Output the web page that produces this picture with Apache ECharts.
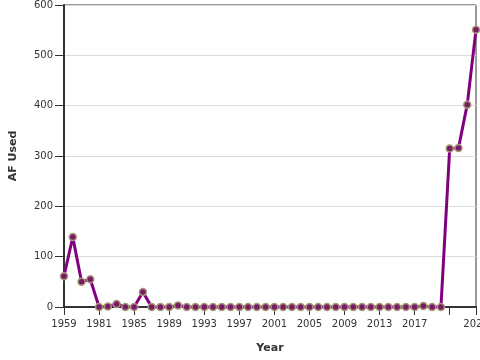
<!DOCTYPE html>
<html><head><meta charset="utf-8">
<script src="https://cdn.jsdelivr.net/npm/echarts@6/dist/echarts.min.js"></script>
<style>html,body{margin:0;padding:0;background:#fff}#c{width:480px;height:360px}</style>
</head><body><div id="c"></div>
<script>
const years = ['1959','1960','1961','1962','1981','1982','1983','1984','1985','1986','1987','1988','1989','1990','1991','1992','1993','1994','1995','1996','1997','1998','1999','2000','2001','2002','2003','2004','2005','2006','2007','2008','2009','2010','2011','2012','2013','2014','2015','2016','2017','2018','2019','2020','2021','2022','2023','2024'];
const afUsed = [61,139,50,55,0,1,6,0,0,30,0,0,0,3,0,0,0,0,0,0,0,0,0,0,0,0,0,0,0,0,0,0,0,0,0,0,0,0,0,0,0,2,0,0,315,316,402,551];
const yTicks = [0,100,200,300,400,500,600];

const last = years.length - 1;
const showIdx = i => (i % 4 === 0 && i !== 44) || i === last;
const tickIdx = i => i % 4 === 0 || i === last;

const chart = echarts.init(document.getElementById('c'), null, {renderer:'canvas'});
chart.setOption({
  animation:false,
  grid:{left:64,right:4,top:5,bottom:53,show:true,borderColor:'#333',borderWidth:1,
        containLabel:false,outerBoundsMode:'none'},
  xAxis:{
    type:'category', data:years, boundaryGap:false,
    name:'Year', nameLocation:'middle', nameGap:36,
    nameTextStyle:{fontFamily:'DejaVu Sans',fontSize:11,fontWeight:'bold',color:'#333'},
    axisLine:{lineStyle:{color:'#333',width:2}},
    axisTick:{interval:(i)=>tickIdx(i),length:8,lineStyle:{color:'#333'}},
    axisLabel:{interval:(i)=>showIdx(i),fontFamily:'DejaVu Sans',fontSize:10,color:'#333',margin:12},
    splitLine:{show:false}
  },
  yAxis:{
    type:'value', min:yTicks[0], max:yTicks[yTicks.length-1], interval:100,
    name:'AF Used', nameLocation:'middle', nameGap:45,
    nameTextStyle:{fontFamily:'DejaVu Sans',fontSize:11,fontWeight:'bold',color:'#333'},
    axisLine:{show:true,lineStyle:{color:'#333',width:2}},
    axisTick:{show:true,length:9,lineStyle:{color:'#333'}},
    axisLabel:{fontFamily:'DejaVu Sans',fontSize:10,color:'#333',margin:11},
    splitLine:{lineStyle:{color:'#dcdcdc'}}
  },
  series:[{
    type:'line', data:afUsed, clip:false, showAllSymbol:true, showSymbol:true,
    lineStyle:{color:'#800080',width:3},
    symbol:'circle', symbolSize:7,
    itemStyle:{color:'#781a66',borderColor:'#a89a78',borderWidth:1.5}
  }]
});
</script></body></html>
